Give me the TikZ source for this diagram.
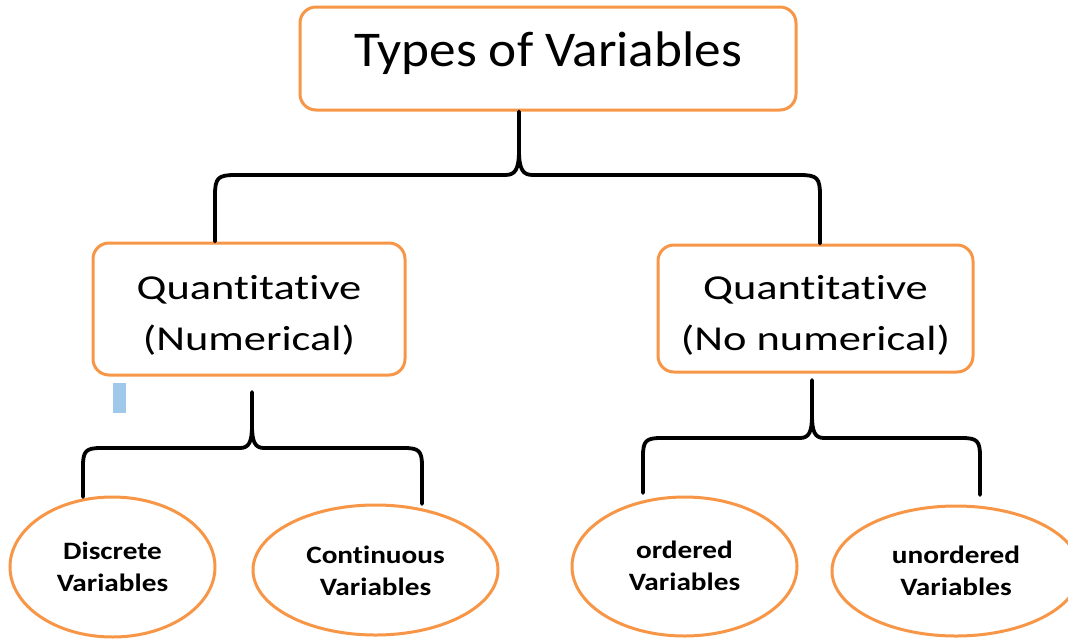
\documentclass[tikz,border=0pt]{standalone}
\usepackage{fontspec}
\setmainfont{Carlito}[Ligatures=NoCommon]
\usetikzlibrary{shapes.geometric}
\definecolor{orng}{HTML}{F79646}
\definecolor{lblue}{HTML}{A0C8EB}
\newcommand{\shiftedtext}[2]{\raisebox{#1}[\height][\depth]{\begin{tabular}{@{}c@{}}#2\end{tabular}}}
\begin{document}
\begin{tikzpicture}[x=1pt,y=-1pt,
  box/.style={draw=orng, line width=3pt, rounded corners=16pt, inner sep=0pt, fill=white},
  midfont/.style={font=\fontsize{35}{51}\selectfont\addfontfeature{FakeStretch=1.27}},
  oval/.style={draw=orng, line width=3pt, ellipse, inner sep=0pt, fill=white,
    font=\bfseries\fontsize{25}{31.5}\selectfont\addfontfeature{FakeStretch=1.17}},
  brace/.style={draw=black, line width=3.8pt, line cap=round, line join=round}]
\useasboundingbox (0,0) rectangle (1068,638);

% nodes
\node[box, minimum width=496, minimum height=103,
  font=\fontsize{50}{60}\selectfont\addfontfeature{FakeStretch=1.065}] (top) at (548,58.5)
  {\shiftedtext{4pt}{Types of Variables}};
\node[box, midfont, minimum width=312, minimum height=132] (quant) at (249,309)
  {\shiftedtext{-6pt}{Quantitative\\(Numerical)}};
\node[box, midfont, minimum width=315, minimum height=127] (qual) at (815.5,308.5)
  {\shiftedtext{-6pt}{Quantitative\\(No numerical)}};
\node[fill=lblue, inner sep=0pt, minimum width=13, minimum height=30] (mark) at (119.5,398) {};

\node[oval, minimum width=205, minimum height=140] (disc) at (112.5,567)
  {\shiftedtext{-2pt}{Discrete\\Variables}};
\node[oval, minimum width=245, minimum height=130] (cont) at (375.5,570)
  {\shiftedtext{-3pt}{Continuous\\Variables}};
\node[oval, minimum width=225, minimum height=139] (ord) at (684.5,566.5)
  {\shiftedtext{-1.5pt}{ordered\\Variables}};
\node[oval, minimum width=248, minimum height=130] (unord) at (956,571)
  {\shiftedtext{-2pt}{unordered\\Variables}};

% brace end points
\coordinate (ts) at (top.south -| 519,0);
\coordinate (tl) at (quant.north -| 215,0);
\coordinate (tr) at (qual.north -| 820,0);
\coordinate (ls) at (252,392);
\coordinate (ll) at (83,497);
\coordinate (lr) at (422,504);
\coordinate (rs) at (812,380);
\coordinate (rl) at (643,493);
\coordinate (rr) at (980,495);

% top brace
\draw[brace] (tl) -- (215,195) .. controls (215,178) and (218,175) .. (235,175)
  -- (505,175) .. controls (515,175) and (519,170) .. (519,150) -- (ts);
\draw[brace] (tr) -- (820,195) .. controls (820,178) and (817,175) .. (800,175)
  -- (533,175) .. controls (523,175) and (519,170) .. (519,150);

% lower left brace
\draw[brace] (ll) -- (83,466) .. controls (83,451) and (86,448) .. (101,448)
  -- (240,448) .. controls (249,448) and (252,442) .. (252,425) -- (ls);
\draw[brace] (lr) -- (422,466) .. controls (422,451) and (419,448) .. (404,448)
  -- (264,448) .. controls (255,448) and (252,442) .. (252,425);

% lower right brace
\draw[brace] (rl) -- (643,456) .. controls (643,441) and (646,438) .. (661,438)
  -- (800,438) .. controls (809,438) and (812,432) .. (812,415) -- (rs);
\draw[brace] (rr) -- (980,456) .. controls (980,441) and (977,438) .. (962,438)
  -- (824,438) .. controls (815,438) and (812,432) .. (812,415);
\end{tikzpicture}
\end{document}
